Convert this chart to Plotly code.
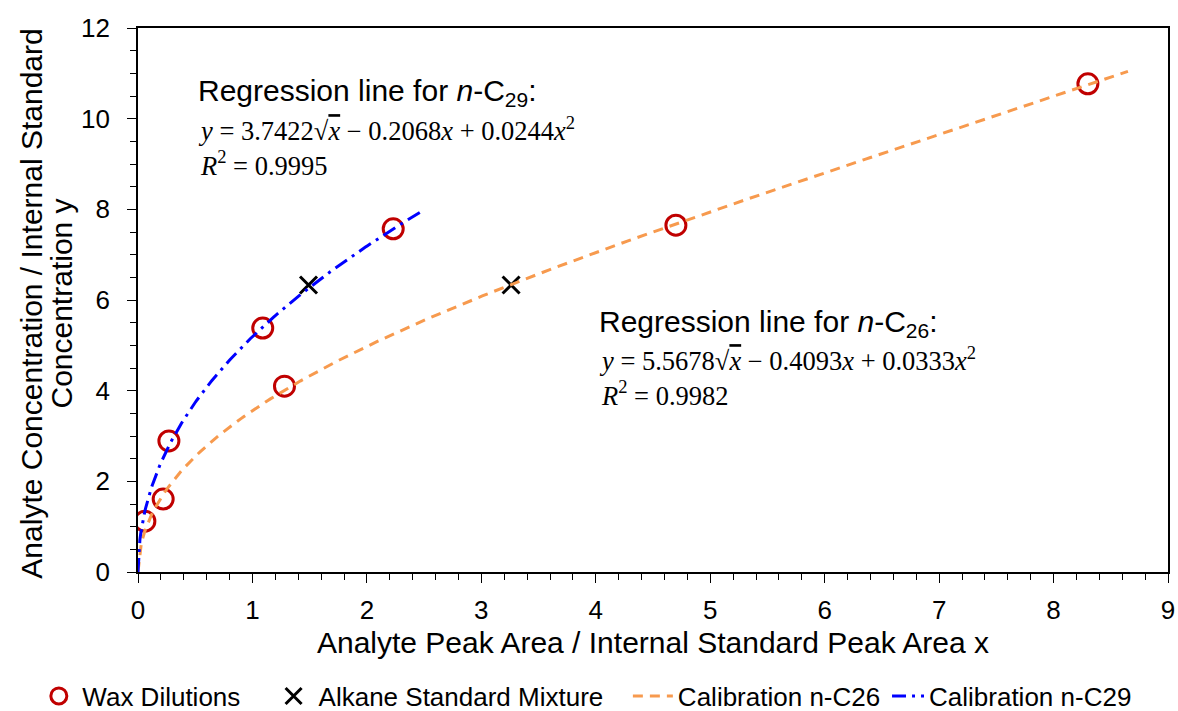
import numpy as np
import plotly.graph_objects as go

# Measured calibration points
wax_x = [0.06, 0.22, 0.27, 1.09, 1.28, 2.23, 4.70, 8.30]
wax_y = [1.12, 1.61, 2.89, 5.38, 4.10, 7.57, 7.65, 10.77]

std_x = [1.49, 3.26]
std_y = [6.33, 6.33]

# Regression coefficients: y = a*sqrt(x) + b*x + c*x^2
fit_top = [3.7422, -0.2068, 0.0244]   # upper annotation block
fit_mid = [5.5678, -0.4093, 0.0333]   # lower annotation block
r2_top = 0.9995
r2_mid = 0.9982

# Fitted ranges of the two calibration curves
c26_range = [0.0, 8.65]
c29_range = [0.0, 2.47]

x_ticks = list(range(0, 10))
y_ticks = list(range(0, 13, 2))

y_title_lines = ["Analyte Concentration / Internal Standard", "Concentration y"]


def curve(coef, xr, n=300):
    xs = np.linspace(xr[0], xr[1], n)
    a, b, c = coef
    return xs, a * np.sqrt(xs) + b * xs + c * xs ** 2


x26, y26 = curve(fit_top, c26_range)
x29, y29 = curve(fit_mid, c29_range)

SANS = "Liberation Sans"
SERIF = "Liberation Serif"

fig = go.Figure()

fig.add_trace(go.Scatter(
    x=wax_x, y=wax_y, mode="markers", name="Wax Dilutions", legend="legend",
    marker=dict(symbol="circle-open", size=20, color="#C00000",
                line=dict(width=3, color="#C00000")),
))
fig.add_trace(go.Scatter(
    x=std_x, y=std_y, mode="markers", name="Alkane Standard Mixture", legend="legend2",
    marker=dict(symbol="x-thin-open", size=17, color="black",
                line=dict(width=3, color="black")),
))
fig.add_trace(go.Scatter(
    x=x26, y=y26, mode="lines", name="Calibration n-C26", legend="legend3",
    line=dict(color="#F79A4E", width=3, dash="10px,7px"),
))
fig.add_trace(go.Scatter(
    x=x29, y=y29, mode="lines", name="Calibration n-C29", legend="legend4",
    line=dict(color="#0000FF", width=3, dash="14px,6px,3px,6px"),
))


def eq_text(coef, r2):
    a, b, c = coef
    return (f"<i>y</i> = {a:.4f}√<span style='text-decoration:overline'><i>x</i></span>"
            f" − {abs(b):.4f}<i>x</i> + {c:.4f}<i>x</i><sup>2</sup>"
            f"<br><i>R</i><sup>2</sup> = {r2:.4f}")


def add_block(x0, y_head, y_eq, species, coef, r2):
    fig.add_annotation(x=x0, y=y_head, xanchor="left", yanchor="middle", showarrow=False,
                       text=f"Regression line for <i>n</i>-C<sub>{species}</sub>:",
                       font=dict(family=SANS, size=30, color="black"))
    fig.add_annotation(x=x0, y=y_eq, xanchor="left", yanchor="middle", showarrow=False,
                       align="left", text=eq_text(coef, r2),
                       font=dict(family=SERIF, size=26.5, color="black"))


add_block(0.507, 10.58, 9.38, "29", fit_top, r2_top)
add_block(4.01, 5.48, 4.31, "26", fit_mid, r2_mid)

# Two-line vertical axis title, set as rotated annotations for tight line spacing
for text, px_x in zip(y_title_lines, [-0.1035, -0.0745]):
    fig.add_annotation(xref="paper", yref="paper", x=px_x, y=0.494, textangle=-90,
                       xanchor="center", yanchor="middle", showarrow=False, text=text,
                       font=dict(family=SANS, size=30, color="black"))

axis_common = dict(
    showline=True, linecolor="black", linewidth=1.6, mirror=True,
    ticks="outside", ticklen=9, tickwidth=1.4, tickcolor="black",
    showgrid=False, zeroline=False,
    tickfont=dict(family=SANS, size=26, color="black"),
)

fig.update_xaxes(
    range=[0, 9], tickvals=x_ticks, **axis_common, ticklabelstandoff=5,
    minor=dict(dtick=0.2, ticks="outside", ticklen=6, tickcolor="black", tickwidth=1.2),
    title=dict(text="Analyte Peak Area / Internal Standard Peak Area x",
               font=dict(family=SANS, size=30, color="black"), standoff=8),
)
fig.update_yaxes(
    range=[0, 12], tickvals=y_ticks, **axis_common, ticklabelstandoff=12,
    minor=dict(dtick=0.5, ticks="outside", ticklen=6, tickcolor="black", tickwidth=1.2),
)

legend_font = dict(family=SANS, size=26, color="black")
legend_common = dict(orientation="h", xref="container", yref="container",
                     y=0.021, yanchor="middle", xanchor="left",
                     font=legend_font, bgcolor="rgba(0,0,0,0)")

fig.update_layout(
    width=1178, height=711,
    margin=dict(l=138, r=10, t=28, b=139, autoexpand=False),
    paper_bgcolor="white", plot_bgcolor="white",
    showlegend=True,
    legend=dict(x=0.030, itemwidth=37, **legend_common),
    legend2=dict(x=0.228, itemwidth=40, **legend_common),
    legend3=dict(x=0.533, itemwidth=40, **legend_common),
    legend4=dict(x=0.753, itemwidth=32, **legend_common),
)

fig.write_html("out.html")
